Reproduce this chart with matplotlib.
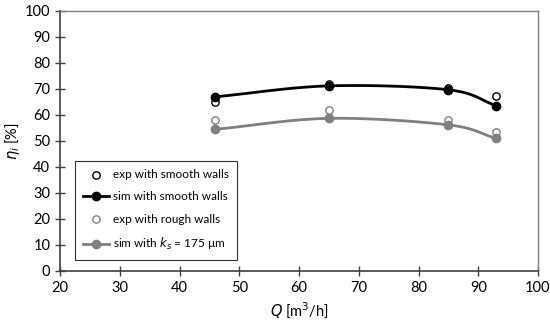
import numpy as np
import matplotlib.pyplot as plt

plt.rcParams['font.family'] = ['Lato', 'DejaVu Sans']
plt.rcParams['mathtext.fontset'] = 'dejavusans'

# flow rates
Q = [46, 65, 85, 93]

# efficiencies
exp_smooth = [64.9, 72.0, 70.5, 67.3]
sim_smooth = [67.0, 71.2, 69.7, 63.6]
exp_rough = [58.1, 61.9, 58.0, 53.5]
sim_rough = [54.5, 58.7, 56.2, 51.0]


def smooth(x, y, n=40):
    # catmull-rom style curve through the points (like excel smoothed lines)
    x = np.asarray(x, float)
    y = np.asarray(y, float)
    px = np.concatenate([[2 * x[0] - x[1]], x, [2 * x[-1] - x[-2]]])
    py = np.concatenate([[2 * y[0] - y[1]], y, [2 * y[-1] - y[-2]]])
    xs, ys = [], []
    t = np.linspace(0, 1, n)
    for i in range(1, len(px) - 2):
        p0, p1, p2, p3 = [np.array([px[j], py[j]]) for j in range(i - 1, i + 3)]
        c1 = p1 + (p2 - p0) / 6
        c2 = p2 - (p3 - p1) / 6
        b = ((1 - t) ** 3)[:, None] * p1 + (3 * (1 - t) ** 2 * t)[:, None] * c1 \
            + (3 * (1 - t) * t ** 2)[:, None] * c2 + (t ** 3)[:, None] * p2
        xs.append(b[:, 0])
        ys.append(b[:, 1])
    return np.concatenate(xs), np.concatenate(ys)


fig = plt.figure(figsize=(5.5, 3.25), dpi=100)
ax = fig.add_axes([60 / 550, 1 - 271 / 325, 478 / 550, 260 / 325])

gray = '#808080'

ax.scatter(Q, exp_smooth, s=28, facecolors='white', edgecolors='black', linewidths=1, zorder=3)
sx, sy = smooth(Q, sim_smooth)
ax.plot(sx, sy, color='black', lw=2, zorder=2)
ax.plot(Q, sim_smooth, 'o', color='black', ms=6, zorder=4)

ax.scatter(Q, exp_rough, s=28, facecolors='white', edgecolors=gray, linewidths=1, zorder=3)
sx, sy = smooth(Q, sim_rough)
ax.plot(sx, sy, color=gray, lw=2, zorder=2)
ax.plot(Q, sim_rough, 'o', color=gray, ms=6, zorder=4)

# legend handles
h1 = ax.scatter([], [], s=28, facecolors='white', edgecolors='black', linewidths=1)
h2, = ax.plot([], [], '-o', color='black', lw=2, ms=6)
h3 = ax.scatter([], [], s=28, facecolors='white', edgecolors=gray, linewidths=1)
h4, = ax.plot([], [], '-o', color=gray, lw=2, ms=6)
leg = ax.legend([h1, h2, h3, h4],
                ['exp with smooth walls', 'sim with smooth walls',
                 'exp with rough walls', r'sim with $k_s$ = 175 µm'],
                loc='lower left', bbox_to_anchor=(0.031, 0.042), fontsize=8.5,
                frameon=True, fancybox=False, edgecolor='black',
                labelspacing=0.95, handlelength=2.2, handletextpad=0.3,
                borderpad=0.7, borderaxespad=0)
leg.get_frame().set_linewidth(0.8)

ax.set_xlim(20, 100)
ax.set_ylim(0, 100)
ax.set_xticks(range(20, 101, 10))
ax.set_yticks(range(0, 101, 10))
ax.tick_params(direction='inout', length=7, width=1, colors='#404040',
               labelsize=10.5, labelcolor='black')
for side in ['left', 'bottom']:
    ax.spines[side].set_color('#404040')
    ax.spines[side].set_linewidth(1.2)
for side in ['top', 'right']:
    ax.spines[side].set_color('#808080')
    ax.spines[side].set_linewidth(1)

ax.set_xlabel(r'$Q$ [m$^3$/h]', fontsize=10.5)
ax.set_ylabel(r'$\eta_i$ [%]', fontsize=10.5, labelpad=2)

fig.savefig('out.png', dpi=100)
